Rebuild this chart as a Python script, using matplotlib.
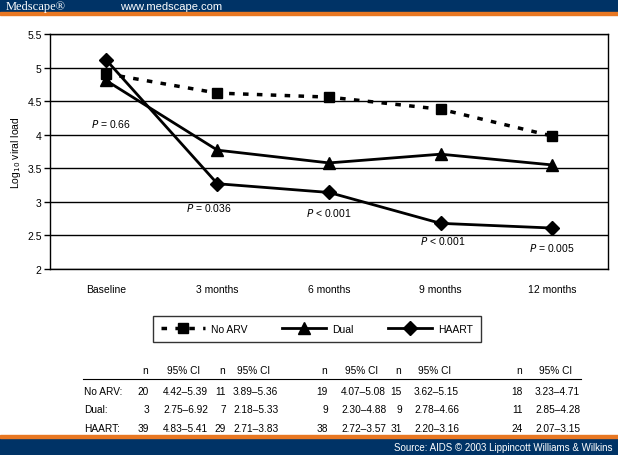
import matplotlib
matplotlib.use("Agg")
from matplotlib import pyplot as plt
from matplotlib.lines import Line2D
from matplotlib.patches import Rectangle

plt.rcParams['font.family'] = ['Liberation Sans', 'DejaVu Sans']

# chart data
timepoints = ["Baseline", "3 months", "6 months", "9 months", "12 months"]
no_arv = [4.91, 4.62, 4.56, 4.38, 3.98]
dual = [4.81, 3.77, 3.58, 3.71, 3.55]
haart = [5.12, 3.27, 3.14, 2.68, 2.61]
yticks = [2, 2.5, 3, 3.5, 4, 4.5, 5, 5.5]
ytick_labels = ["2", "2.5", "3", "3.5", "4", "4.5", "5", "5.5"]

# p value notes (x index, y value, text)
p_x = [0.05, 0.92, 2.0, 3.02, 4.0]
p_y = [4.17, 2.92, 2.85, 2.43, 2.33]
p_text = [r"$P$ = 0.66", r"$P$ = 0.036", r"$P$ < 0.001", r"$P$ < 0.001", r"$P$ = 0.005"]

# table under the chart
row_names = ["No ARV:", "Dual:", "HAART:"]
n_no_arv = ["20", "11", "19", "15", "18"]
n_dual = ["3", "7", "9", "9", "11"]
n_haart = ["39", "29", "38", "31", "24"]
ci_no_arv = ["4.42–5.39", "3.89–5.36", "4.07–5.08", "3.62–5.15", "3.23–4.71"]
ci_dual = ["2.75–6.92", "2.18–5.33", "2.30–4.88", "2.78–4.66", "2.85–4.28"]
ci_haart = ["4.83–5.41", "2.71–3.83", "2.72–3.57", "2.20–3.16", "2.07–3.15"]

W, H = 618, 456
fig = plt.figure(figsize=(W / 100, H / 100), dpi=100)
fig.patch.set_facecolor("white")

navy = "#003366"
orange = "#e87722"

# header / footer bars
fig.patches.append(Rectangle((0, 1 - 13 / H), 1, 13 / H, transform=fig.transFigure, color=navy, zorder=0))
fig.patches.append(Rectangle((0, 1 - 16 / H), 1, 3 / H, transform=fig.transFigure, color=orange, zorder=0))
fig.patches.append(Rectangle((0, 0), 1, 17 / H, transform=fig.transFigure, color=navy, zorder=0))
fig.patches.append(Rectangle((0, 17 / H), 1, 3 / H, transform=fig.transFigure, color=orange, zorder=0))
fig.text(6 / W, 1 - 7 / H, "Medscape®", color="white", fontsize=9, family="Liberation Serif", va="center")
fig.text(120 / W, 1 - 7 / H, "www.medscape.com", color="white", fontsize=8, va="center")
fig.text(613 / W, 8 / H, "Source: AIDS © 2003 Lippincott Williams & Wilkins", color="white",
         fontsize=7, ha="right", va="center")

ax = fig.add_axes([50 / W, 1 - 270 / H, 558 / W, 235 / H])
x = list(range(len(timepoints)))
ax.set_xlim(-0.5, 4.5)
ax.set_ylim(2, 5.5)
for yv in yticks:
    ax.axhline(yv, color="black", lw=1, zorder=1)

l1, = ax.plot(x, no_arv, color="black", lw=2.5, ls=(0, (1.6, 2.4)), marker="s", ms=6.5, zorder=3)
l2, = ax.plot(x, dual, color="black", lw=2, marker="^", ms=8, zorder=3)
l3, = ax.plot(x, haart, color="black", lw=2, marker="D", ms=7, zorder=4)

for px, py, t in zip(p_x, p_y, p_text):
    ax.text(px, py, t, fontsize=7.5, ha="center", va="center")

ax.set_yticks(yticks)
ax.set_yticklabels(ytick_labels, fontsize=7.5)
ax.set_xticks(x)
ax.set_xticklabels(timepoints, fontsize=7.5)
ax.tick_params(axis="x", length=0, pad=11)
ax.tick_params(axis="y", length=4, width=1, pad=2)
for s in ax.spines.values():
    s.set_color("black")
    s.set_linewidth(1)
ax.set_ylabel(r"Log$_{10}$ viral load", fontsize=7.5, labelpad=3)

fig.legend([l1, l2, l3], ["No ARV", "Dual", "HAART"], ncol=3, loc="center",
           bbox_to_anchor=(317 / W, 1 - 330 / H), fontsize=7.5, frameon=True, fancybox=False,
           edgecolor="black", handlelength=4.2, columnspacing=3.3, borderpad=0.8, handletextpad=0.6)

# table
n_right = [149, 226, 328, 402, 523]
ci_left = [163, 233, 341, 414, 535]
tfs = 7.3
y_head = 1 - 371 / H
rows_y = [1 - 392 / H, 1 - 410 / H, 1 - 429 / H]
for i in range(5):
    fig.text((n_right[i] - 4) / W, y_head, "n", fontsize=tfs, ha="center", va="center")
    fig.text((ci_left[i] + 21) / W, y_head, "95% CI", fontsize=tfs, ha="center", va="center")
fig.add_artist(Line2D([83 / W, 581 / W], [1 - 380 / H, 1 - 380 / H], color="black", lw=0.8))
for ry, name, ns, cis in zip(rows_y, row_names, [n_no_arv, n_dual, n_haart], [ci_no_arv, ci_dual, ci_haart]):
    fig.text(84 / W, ry, name, fontsize=tfs, ha="left", va="center")
    for i in range(5):
        fig.text(n_right[i] / W, ry, ns[i], fontsize=tfs, ha="right", va="center")
        fig.text(ci_left[i] / W, ry, cis[i], fontsize=tfs, ha="left", va="center")

plt.savefig("out.png", dpi=100)
